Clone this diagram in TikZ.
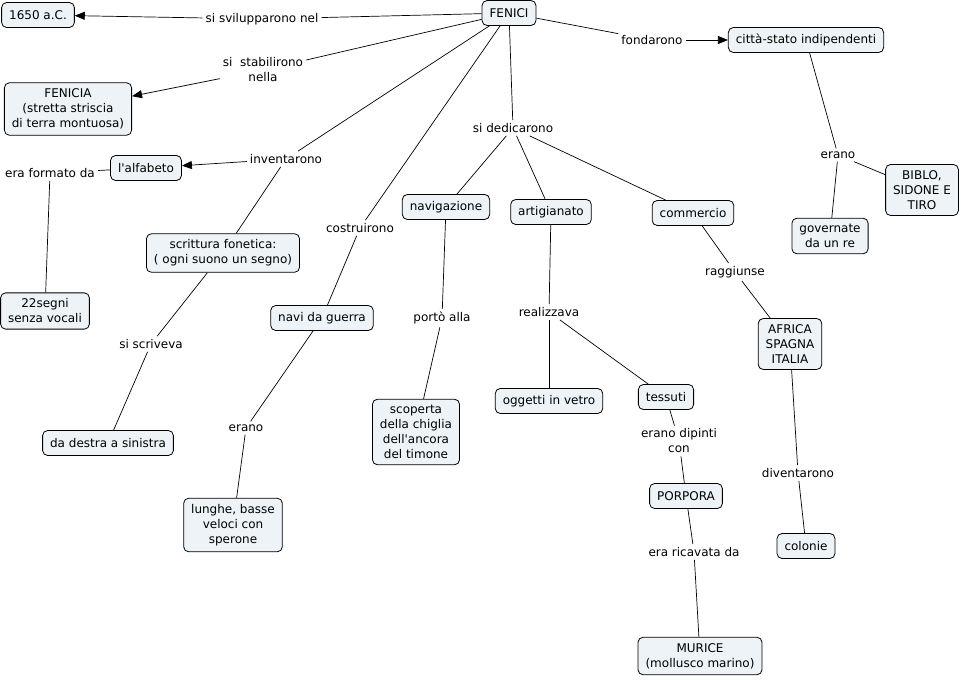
\documentclass[tikz,border=0pt]{standalone}
\usepackage{fontspec}
\setmainfont{DejaVu Sans}
\usepackage{tikz}
\usetikzlibrary{arrows.meta}

\definecolor{conceptfill}{RGB}{237,243,246}

\begin{document}
\begin{tikzpicture}[x=1pt,y=-1pt,
  font=\fontsize{12}{15}\selectfont,
  concept/.style={draw,line width=0.8pt,rounded corners=5pt,fill=conceptfill,align=center,
    inner xsep=7.5pt,inner ysep=6pt,minimum height=25pt},
  link/.style={align=center,inner sep=3pt},
  conn/.style={line width=0.7pt},
  arr/.style={line width=0.7pt,-{Triangle[length=10pt,width=8pt]}}]
\useasboundingbox (0,0) rectangle (964,680);

% Concepts
\node[concept] (fenici) at (509,13) {FENICI};
\node[concept] (ac1650) at (38,15) {1650 a.C.};
\node[concept] (fenicia) at (68,109) {FENICIA\\(stretta striscia\\di terra montuosa)};
\node[concept] (cittastato) at (806,40) {città-stato indipendenti};
\node[concept] (alfabeto) at (146,168) {l\textquotesingle alfabeto};
\node[concept] (scrittura) at (223,253) {scrittura fonetica:\\( ogni suono un segno)};
\node[concept] (segni) at (45,311) {22segni\\senza vocali};
\node[concept] (navi) at (322,318) {navi da guerra};
\node[concept] (navigazione) at (446,207) {navigazione};
\node[concept] (artigianato) at (551,212) {artigianato};
\node[concept] (commercio) at (693,213) {commercio};
\node[concept] (biblo) at (922,190) {BIBLO,\\SIDONE E\\TIRO};
\node[concept] (governate) at (830,236) {governate\\da un re};
\node[concept] (africa) at (790,344) {AFRICA\\SPAGNA\\ITALIA};
\node[concept] (scoperta) at (416,432) {scoperta\\della chiglia\\dell\textquotesingle ancora\\del timone};
\node[concept] (oggetti) at (549,401) {oggetti in vetro};
\node[concept] (tessuti) at (666,397) {tessuti};
\node[concept] (porpora) at (686,496) {PORPORA};
\node[concept] (murice) at (700,656) {MURICE\\(mollusco marino)};
\node[concept] (colonie) at (806,546) {colonie};
\node[concept] (lunghe) at (233,525) {lunghe, basse\\veloci con\\sperone};
\node[concept] (destra) at (108,443) {da destra a sinistra};

% Linking phrases
\node[link] (lsvil) at (262,19) {si svilupparono nel};
\node[link] (lstab) at (263,70) {si\ \ stabilirono\\nella};
\node[link] (lfond) at (652,40) {fondarono};
\node[link] (ldedic) at (513,128) {si dedicarono};
\node[link] (linvent) at (286,159) {inventarono};
\node[link] (lformato) at (50,173) {era formato da};
\node[link] (lerano) at (838,155) {erano};
\node[link] (lcostr) at (360,228) {costruirono};
\node[link] (lragg) at (735,272) {raggiunse};
\node[link] (lscriv) at (151,344) {si scriveva};
\node[link] (lporto) at (442,318) {portò alla};
\node[link] (lrealiz) at (549,312) {realizzava};
\node[link] (lerano2) at (246,428) {erano};
\node[link] (ldipinti) at (679,441) {erano dipinti\\con};
\node[link] (ldivent) at (798,473) {diventarono};
\node[link] (lricav) at (694,552) {era ricavata da};

% Connections
\draw[conn] (fenici) -- (lsvil);
\draw[arr] (lsvil) -- (ac1650);
\draw[conn] (fenici) -- (lstab);
\draw[arr] (lstab) -- (fenicia);
\draw[conn] (fenici) -- (lfond);
\draw[arr] (lfond) -- (cittastato);
\draw[conn] (fenici) -- (ldedic);
\draw[conn] (ldedic) -- (navigazione);
\draw[conn] (ldedic) -- (artigianato);
\draw[conn] (ldedic) -- (commercio);
\draw[conn] (fenici) -- (linvent);
\draw[arr] (linvent) -- (alfabeto);
\draw[conn] (linvent) -- (scrittura);
\draw[conn] (fenici) -- (lcostr);
\draw[conn] (lcostr) -- (navi);
\draw[conn] (alfabeto) -- (lformato);
\draw[conn] (lformato) -- (segni);
\draw[conn] (cittastato) -- (lerano);
\draw[conn] (lerano) -- (biblo);
\draw[conn] (lerano) -- (governate);
\draw[conn] (commercio) -- (lragg);
\draw[conn] (lragg) -- (africa);
\draw[conn] (scrittura) -- (lscriv);
\draw[conn] (lscriv) -- (destra);
\draw[conn] (navigazione) -- (lporto);
\draw[conn] (lporto) -- (scoperta);
\draw[conn] (artigianato) -- (lrealiz);
\draw[conn] (lrealiz) -- (oggetti);
\draw[conn] (lrealiz) -- (tessuti);
\draw[conn] (navi) -- (lerano2);
\draw[conn] (lerano2) -- (lunghe);
\draw[conn] (tessuti) -- (ldipinti);
\draw[conn] (ldipinti) -- (porpora);
\draw[conn] (africa) -- (ldivent);
\draw[conn] (ldivent) -- (colonie);
\draw[conn] (porpora) -- (lricav);
\draw[conn] (lricav) -- (murice);

\end{tikzpicture}
\end{document}
